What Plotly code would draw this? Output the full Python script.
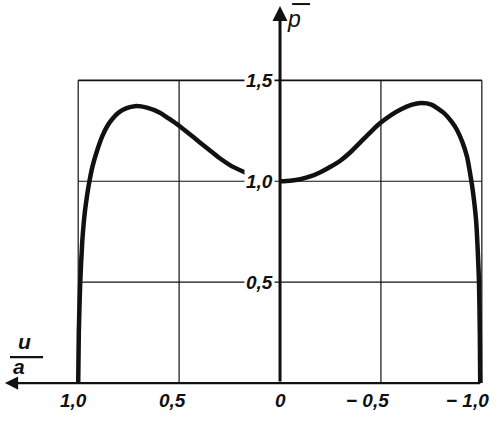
import plotly.graph_objects as go

# ---- data ----
u_left = [1.0, 0.997, 0.99, 0.98, 0.972, 0.966, 0.956, 0.948, 0.93, 0.907, 0.88, 0.855, 0.83, 0.80,
          0.76, 0.72, 0.66, 0.595, 0.55, 0.50, 0.45, 0.40, 0.35, 0.30, 0.24, 0.165]
p_left = [0.0, 0.25, 0.5, 0.70, 0.80, 0.857, 0.93, 0.98, 1.07, 1.15, 1.225, 1.275, 1.31, 1.34,
          1.362, 1.372, 1.365, 1.34, 1.31, 1.275, 1.235, 1.195, 1.155, 1.115, 1.075, 1.04]

u_right = [0.0, -0.05, -0.10, -0.15, -0.20, -0.25, -0.30, -0.35, -0.40, -0.45, -0.495, -0.55, -0.60,
           -0.65, -0.70, -0.75, -0.81, -0.85, -0.877, -0.905, -0.927, -0.94, -0.952, -0.962, -0.972,
           -0.98, -0.986, -0.99, -0.992]
p_right = [1.0, 1.003, 1.01, 1.024, 1.045, 1.072, 1.103, 1.145, 1.195, 1.245, 1.287, 1.328, 1.357,
           1.378, 1.388, 1.38, 1.34, 1.295, 1.254, 1.19, 1.12, 1.05, 0.976, 0.9, 0.8,
           0.65, 0.5, 0.25, 0.0]

grid_u = [1.0, 0.5, -0.5, -1.0]
grid_p = [0.5, 1.0, 1.5]

x_ticks = [1.0, 0.5, 0.0, -0.5, -1.0]
x_tick_labels = ["1,0", "0,5", "0", "\u2212 0,5", "\u2212 1,0"]
y_ticks = [0.5, 1.0, 1.5]
y_tick_labels = ["0,5", "1,0", "1,5"]

FONT = "Liberation Sans, Arial, sans-serif"
INK = "#111111"

fig = go.Figure()

for uu, pp in [(u_left, p_left), (u_right, p_right)]:
    fig.add_trace(go.Scatter(x=uu, y=pp, mode="lines",
                             line=dict(color=INK, width=4.5, shape="spline", smoothing=0.6),
                             hoverinfo="skip", showlegend=False))

shapes = []
for g in grid_u:
    shapes.append(dict(type="line", xref="x", yref="y", x0=g, x1=g, y0=0, y1=1.5,
                       line=dict(color=INK, width=1.2), layer="below"))
for g in grid_p:
    shapes.append(dict(type="line", xref="x", yref="y", x0=1.0, x1=-1.0, y0=g, y1=g,
                       line=dict(color=INK, width=1.8 if g == 1.5 else 1.2), layer="below"))
# fraction bar of u/a
shapes.append(dict(type="line", xref="x", yref="y", x0=1.338, x1=1.174, y0=0.129, y1=0.129,
                   line=dict(color=INK, width=2.2)))
# overline of p
shapes.append(dict(type="line", xref="x", yref="y", x0=-0.06, x1=-0.149, y0=1.878, y1=1.878,
                   line=dict(color=INK, width=2)))

annotations = []
# axes with arrows
annotations.append(dict(x=1.363, y=0, ax=-1.0, ay=0, xref="x", yref="y", axref="x", ayref="y",
                        text="", showarrow=True, arrowhead=2, arrowsize=1.1, arrowwidth=2.4,
                        arrowcolor=INK))
annotations.append(dict(x=0, y=1.868, ax=0, ay=0, xref="x", yref="y", axref="x", ayref="y",
                        text="", showarrow=True, arrowhead=2, arrowsize=1.0, arrowwidth=3,
                        arrowcolor=INK))

shifts = [-5, -7, 0, -13, -14]
for t, lab, s in zip(x_ticks, x_tick_labels, shifts):
    annotations.append(dict(x=t, y=0, xref="x", yref="y", text=lab, showarrow=False,
                            xanchor="center", yanchor="top", xshift=s, yshift=-5,
                            font=dict(family=FONT, size=19, color=INK, style="italic",
                                      weight="bold")))
for t, lab in zip(y_ticks, y_tick_labels):
    annotations.append(dict(x=0, y=t, xref="x", yref="y", text=lab, showarrow=False,
                            xanchor="right", yanchor="middle", xshift=-5, bgcolor="white",
                            borderpad=1,
                            font=dict(family=FONT, size=19, color=INK, style="italic",
                                      weight="bold")))

annotations.append(dict(x=1.264, y=0.141, xref="x", yref="y", text="u", showarrow=False,
                        xanchor="center", yanchor="bottom",
                        font=dict(family=FONT, size=21, color=INK, style="italic", weight="bold")))
annotations.append(dict(x=1.293, y=0.149, xref="x", yref="y", text="a", showarrow=False,
                        xanchor="center", yanchor="top",
                        font=dict(family=FONT, size=21, color=INK, style="italic", weight="bold")))
annotations.append(dict(x=-0.025, y=1.878, xref="x", yref="y", text="p", showarrow=False,
                        xanchor="left", yanchor="top",
                        font=dict(family=FONT, size=23, color=INK, style="italic")))

fig.update_layout(
    width=500, height=428,
    margin=dict(l=0, r=0, t=0, b=0),
    paper_bgcolor="white", plot_bgcolor="white",
    xaxis=dict(range=[1.3875, -1.090], visible=False, fixedrange=True),
    yaxis=dict(range=[-0.2225, 1.898], visible=False, fixedrange=True),
    shapes=shapes, annotations=annotations, showlegend=False,
)

fig.write_html("out.html", config={"displayModeBar": False},
               post_script="document.body.style.margin='0';")
